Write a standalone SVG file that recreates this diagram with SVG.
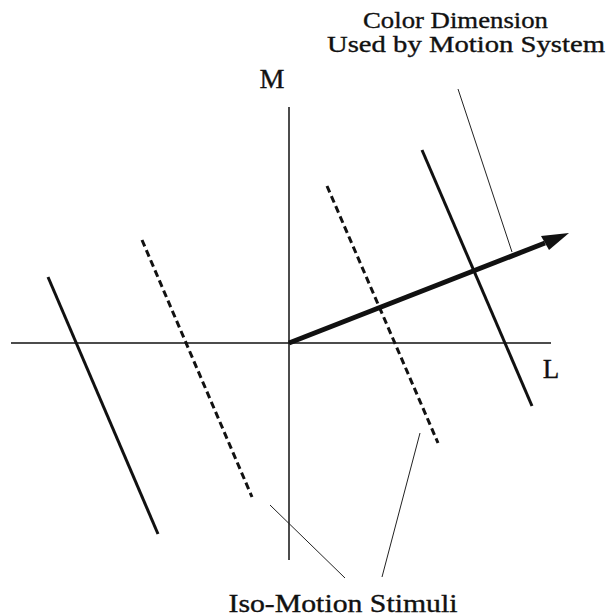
<svg xmlns="http://www.w3.org/2000/svg" width="609" height="616" viewBox="0 0 609 616">
<style>
text{font-family:"Liberation Serif","DejaVu Serif",serif;fill:#111;stroke:#111;stroke-width:0.35}
.axis{stroke:#111;stroke-width:1.5;fill:none}
.solid{stroke:#111;stroke-width:3;fill:none}
.dash{stroke:#111;stroke-width:3;stroke-dasharray:7 4;fill:none}
.lead{stroke:#222;stroke-width:1;fill:none}
</style>
<rect width="609" height="616" fill="#fff"/>
<g id="axes">
<line class="axis" x1="11" y1="343" x2="551" y2="343"/>
<line class="axis" x1="289" y1="107" x2="289" y2="560"/>
<text x="272" y="88" font-size="27" text-anchor="middle" textLength="25" lengthAdjust="spacingAndGlyphs">M</text>
<text x="551" y="378" font-size="27" text-anchor="middle">L</text>
</g>
<g id="iso-lines">
<line class="solid" x1="48" y1="277" x2="158" y2="534"/>
<line class="dash" x1="142" y1="240" x2="252" y2="497"/>
<line class="dash" x1="327" y1="186" x2="438" y2="443"/>
<line class="solid" x1="422" y1="150" x2="532" y2="406"/>
</g>
<g id="color-dimension">
<line x1="289" y1="343" x2="545" y2="243" stroke="#111" stroke-width="5"/>
<path d="M569,233 L541,236 L549,250 z" fill="#111"/>
</g>
<g id="connectors">
<line class="lead" x1="458" y1="89" x2="512" y2="252"/>
<line class="lead" x1="270" y1="505" x2="345" y2="578"/>
<line class="lead" x1="420" y1="433" x2="382" y2="577"/>
</g>
<g id="label-color">
<text x="455.5" y="28" font-size="23.5" text-anchor="middle" textLength="185" lengthAdjust="spacingAndGlyphs">Color Dimension</text>
<text x="466" y="52" font-size="23.5" text-anchor="middle" textLength="278" lengthAdjust="spacingAndGlyphs">Used by Motion System</text>
</g>
<g id="label-iso">
<text x="343" y="612" font-size="25" text-anchor="middle" textLength="229" lengthAdjust="spacingAndGlyphs">Iso-Motion Stimuli</text>
</g>
</svg>
